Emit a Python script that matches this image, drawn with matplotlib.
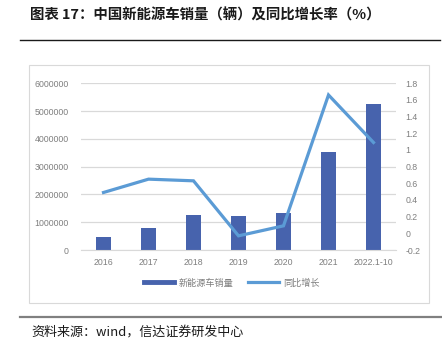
import matplotlib.pyplot as plt
from matplotlib.patches import Rectangle
from matplotlib.lines import Line2D

plt.rcParams['font.family'] = ['Liberation Sans', 'Noto Sans CJK SC', 'DejaVu Sans']

# data
years = ["2016", "2017", "2018", "2019", "2020", "2021", "2022.1-10"]
sales = [480000, 780000, 1260000, 1220000, 1320000, 3510000, 5250000]
growth = [0.49, 0.65, 0.63, -0.03, 0.09, 1.66, 1.09]
left_ticks = [0, 1000000, 2000000, 3000000, 4000000, 5000000, 6000000]
right_ticks = [-0.2, 0, 0.2, 0.4, 0.6, 0.8, 1, 1.2, 1.4, 1.6, 1.8]

bar_color = "#4763AD"
line_color = "#5B9BD5"
tick_color = "#7F7F7F"
grid_color = "#D9D9D9"
cjk = ['Noto Sans CJK SC', 'DejaVu Sans']

fig = plt.figure(figsize=(4.42, 3.56), dpi=100)
W, H = 442, 356

# title and rules
fig.text(30 / W, 1 - 15 / H, "图表 17：中国新能源车销量（辆）及同比增长率（%）",
         family=cjk, fontsize=10.4, fontweight='bold',
         color="#1a1a1a", ha='left', va='center')
fig.add_artist(Line2D([20 / W, 440 / W], [1 - 39.5 / H] * 2, color="#1a1a1a", lw=1.0))
fig.add_artist(Line2D([20 / W, 1.0], [1 - 317 / H] * 2, color="#808080", lw=1.6))
fig.text(31 / W, 1 - 332 / H, "资料来源：wind，信达证券研发中心",
         family=cjk, fontsize=9.4, style='italic',
         color="#1a1a1a", ha='left', va='center')

# chart frame
fig.add_artist(Rectangle((28.5 / W, 1 - 302.5 / H), 400 / W, 238 / H,
                         transform=fig.transFigure, fill=False, edgecolor="#D9D9D9", lw=0.8))

ax = fig.add_axes([81 / W, 1 - 250 / H, 315 / W, 166.7 / H])
x = range(len(years))
ax.bar(x, sales, width=0.33, color=bar_color, zorder=2)
ax.set_xlim(-0.5, len(years) - 0.5)
ax.set_ylim(0, 6000000)
ax.set_yticks(left_ticks)
ax.set_yticklabels([str(v) for v in left_ticks])
ax.set_xticks(list(x))
ax.set_xticklabels(years)
ax.grid(axis='y', color=grid_color, lw=0.9, zorder=0)
for s in ['top', 'left', 'right']:
    ax.spines[s].set_visible(False)
ax.spines['bottom'].set_color(grid_color)
ax.tick_params(axis='both', length=0, labelsize=6.3, labelcolor=tick_color)
ax.tick_params(axis='y', pad=9)
ax.tick_params(axis='x', pad=6)

ax2 = ax.twinx()
ax2.plot(list(x), growth, color=line_color, lw=2.3, solid_joinstyle='miter', zorder=3)
ax2.set_ylim(-0.2, 1.8)
ax2.set_yticks(right_ticks)
ax2.set_yticklabels([f"{v:g}" for v in right_ticks])
for s in ax2.spines.values():
    s.set_visible(False)
ax2.tick_params(axis='y', length=0, labelsize=6.3, labelcolor=tick_color, pad=7)

handles = [Line2D([0], [0], color=bar_color, lw=3.5), Line2D([0], [0], color=line_color, lw=2.3)]
leg = fig.legend(handles, ["新能源车销量", "同比增长"], loc='center', ncol=2,
                 bbox_to_anchor=(232 / W, 1 - 283 / H), frameon=False,
                 prop={'family': cjk, 'size': 6.6},
                 handlelength=3.3, columnspacing=1.6, handletextpad=0.5)
for t in leg.get_texts():
    t.set_color(tick_color)

fig.savefig("out.png", dpi=100)
